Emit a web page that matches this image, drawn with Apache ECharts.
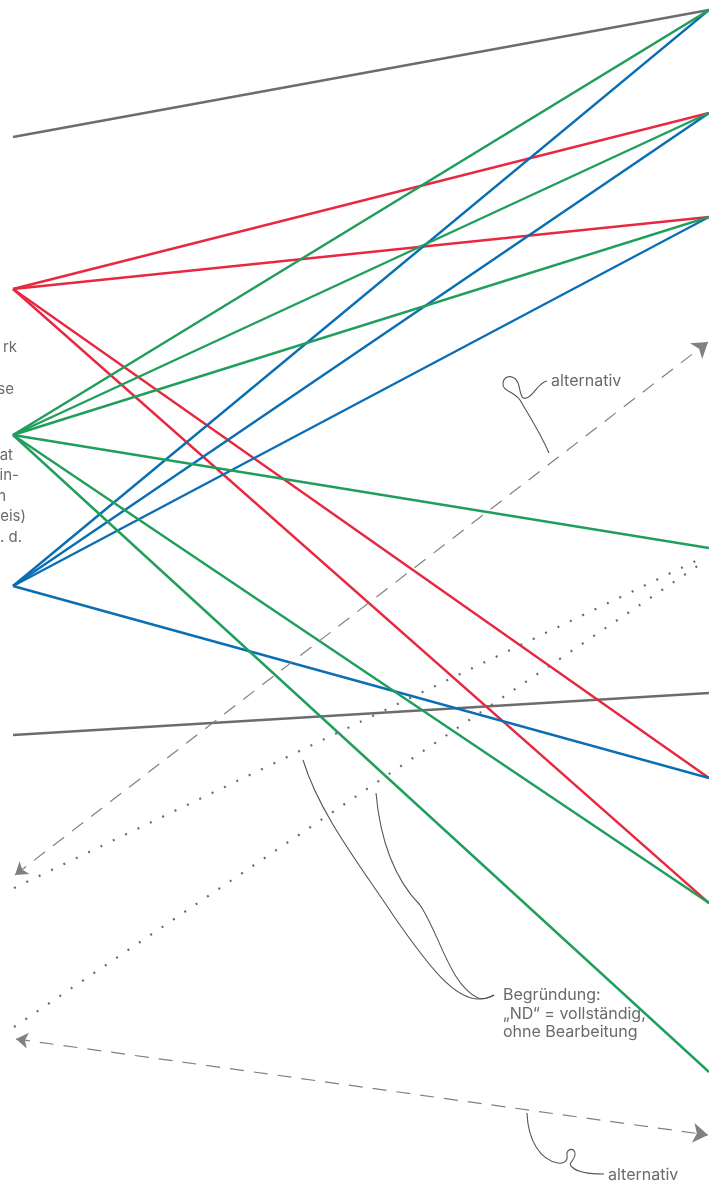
<!DOCTYPE html>
<html>
<head>
<meta charset="utf-8">
<script src="https://cdn.jsdelivr.net/npm/echarts@6/dist/echarts.min.js"></script>
<style>
  html, body { margin: 0; padding: 0; background: #fff; }
  #chart { width: 709px; height: 1192px; }
</style>
</head>
<body>
<div id="chart"></div>
<script>
  // left / right columns (x) of the flow diagram
  const leftX = 13;
  const rightX = 709;

  // source node y  ->  target node y values
  const redFrom = 289;
  const redTo = [113, 217, 778, 903];
  const greenFrom = 435;
  const greenTo = [10, 113, 217, 548, 903, 1072];
  const blueFrom = 586;
  const blueTo = [10, 113, 217, 778];
  const grayLinks = [[137, 10], [735, 693]];

  // auxiliary arrows: [x1, y1, x2, y2]
  const dashedLinks = [[15, 875, 708, 342], [16, 1039, 708, 1135]];
  const dottedLinks = [[14, 888, 702, 558], [14, 1027, 702, 563]];

  // clipped text fragments at the left edge: [right x, y, text]
  const edgeTexts = [
    [17, 347, "rk"],
    [14, 389, "se"],
    [13, 455, "at"],
    [19, 475, "in-"],
    [6, 496, "n"],
    [26, 516, "eis)"],
    [22, 537, ". d."]
  ];
  const noteLines = ["Begründung:", "„ND“ = vollständig,", "ohne Bearbeitung"];

  const colors = { red: "#e8283f", green: "#1f9e5c", blue: "#0a6eb4", gray: "#6c6c6e" };
  const font = "Inter, Roboto, 'DejaVu Sans', sans-serif";
  const textColor = "#6a6a6a";

  function links(from, toList) {
    return toList.map((to) => ({ coords: [[leftX, from], [rightX, to]] }));
  }

  function linkSeries(name, color, data) {
    return {
      name,
      type: "lines",
      coordinateSystem: "cartesian2d",
      data,
      symbol: "none",
      silent: true,
      lineStyle: { color, width: 2.4, opacity: 1 }
    };
  }

  const chart = echarts.init(document.getElementById("chart"), null, { renderer: "canvas" });

  const graphics = edgeTexts.map(([x, y, text]) => ({
    type: "text",
    x, y,
    silent: true,
    style: { text, fill: textColor, fontSize: 15, fontFamily: font, align: "right", verticalAlign: "middle" }
  }));

  graphics.push(
    {
      type: "text", x: 551, y: 381, silent: true,
      style: { text: "alternativ", fill: textColor, fontSize: 16, fontFamily: font, align: "left", verticalAlign: "middle" }
    },
    {
      type: "text", x: 608, y: 1175, silent: true,
      style: { text: "alternativ", fill: textColor, fontSize: 16, fontFamily: font, align: "left", verticalAlign: "middle" }
    },
    {
      type: "text", x: 503, y: 1014, silent: true,
      style: { text: noteLines.join("\n"), fill: textColor, fontSize: 16, lineHeight: 18.5, fontFamily: font, align: "left", verticalAlign: "middle" }
    }
  );

  // hand drawn pointer curves: start point followed by cubic segments [c1x, c1y, c2x, c2y, x, y]
  const curves = [
    [[549, 453], [540, 432, 528, 414, 520, 400], [513, 390, 502, 392, 503, 383], [504, 374, 516, 374, 519, 386], [521, 396, 522, 402, 530, 396], [536, 391, 540, 382, 547, 381]],
    [[527, 1113], [528, 1140, 540, 1160, 558, 1163], [564, 1164, 568, 1161, 567, 1155], [566, 1148, 576, 1147, 575, 1155], [574, 1162, 567, 1163, 572, 1167], [578, 1173, 590, 1174, 604, 1174]],
    [[303, 760], [320, 815, 360, 865, 395, 918], [430, 968, 455, 1000, 480, 999], [486, 999, 490, 997, 494, 995]],
    [[376, 793], [380, 840, 395, 880, 420, 905], [440, 935, 450, 985, 478, 998], [484, 1000, 489, 998, 494, 995]]
  ];
  curves.forEach((curve) => {
    let [px, py] = curve[0];
    curve.slice(1).forEach(([c1x, c1y, c2x, c2y, x, y]) => {
      graphics.push({
        type: "bezierCurve",
        silent: true,
        shape: { x1: px, y1: py, cpx1: c1x, cpy1: c1y, cpx2: c2x, cpy2: c2y, x2: x, y2: y },
        style: { fill: null, stroke: "#555", lineWidth: 1.1 }
      });
      px = x;
      py = y;
    });
  });

  chart.setOption({
    animation: false,
    grid: { left: 0, right: 0, top: 0, bottom: 0 },
    xAxis: { type: "value", min: 0, max: 709, show: false },
    yAxis: { type: "value", min: 0, max: 1192, inverse: true, show: false },
    series: [
      linkSeries("gray", colors.gray, grayLinks.map(([a, b]) => ({ coords: [[leftX, a], [rightX, b]] }))),
      linkSeries("red", colors.red, links(redFrom, redTo)),
      linkSeries("blue", colors.blue, links(blueFrom, blueTo)),
      linkSeries("green", colors.green, links(greenFrom, greenTo)),
      {
        type: "lines",
        coordinateSystem: "cartesian2d",
        silent: true,
        data: dashedLinks.map(([x1, y1, x2, y2]) => ({ coords: [[x1, y1], [x2, y2]] })),
        symbol: ["arrow", "arrow"],
        symbolSize: [12, 15],
        lineStyle: { color: "#808080", width: 1.2, type: [14, 10], opacity: 1 }
      },
      {
        type: "lines",
        coordinateSystem: "cartesian2d",
        silent: true,
        data: dottedLinks.map(([x1, y1, x2, y2]) => ({ coords: [[x1, y1], [x2, y2]] })),
        symbol: "none",
        lineStyle: { color: "#6a6a6a", width: 2.2, type: [2, 11.7], opacity: 1 }
      }
    ],
    graphic: graphics
  });
</script>
</body>
</html>
